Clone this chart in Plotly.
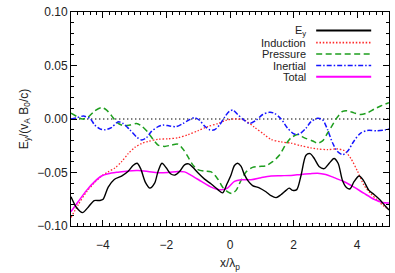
import plotly.graph_objects as go

# ---- data ----
ey_x = [-5.0, -4.82, -4.64, -4.46, -4.27, -4.09, -3.99, -3.83, -3.64, -3.41, -3.20, -3.05, -2.92, -2.81, -2.66, -2.52,
        -2.37, -2.26, -2.14, -2.00, -1.87, -1.74, -1.58, -1.43, -1.30, -1.17, -1.01, -0.80, -0.59, -0.38, -0.23, -0.10,
        0.035, 0.14, 0.24, 0.35, 0.45, 0.58, 0.71, 0.92, 1.13, 1.29, 1.45, 1.60, 1.76, 1.86, 1.97, 2.10, 2.23, 2.39,
        2.52, 2.65, 2.80, 2.96, 3.12, 3.27, 3.40, 3.54, 3.67, 3.78, 3.90, 4.06, 4.19, 4.37, 4.53, 4.72, 4.89, 5.0]
ey_y = [-0.0726, -0.083, -0.0875, -0.0824, -0.0762, -0.0762, -0.075, -0.0637, -0.0565, -0.0533, -0.0488, -0.0435,
        -0.0414, -0.0464, -0.0592, -0.0646, -0.060, -0.0488, -0.0414, -0.0458, -0.0512, -0.0524, -0.0488, -0.0429,
        -0.042, -0.0452, -0.0503, -0.0562, -0.0607, -0.066, -0.069, -0.061, -0.052, -0.0435, -0.0414, -0.0443,
        -0.0518, -0.0583, -0.0622, -0.0643, -0.068, -0.0717, -0.0735, -0.0708, -0.0667, -0.0646, -0.0667, -0.066,
        -0.0533, -0.0339, -0.0324, -0.0369, -0.0443, -0.0464, -0.0414, -0.0369, -0.0414, -0.0577, -0.0643, -0.0652,
        -0.0586, -0.0533, -0.0571, -0.0667, -0.0705, -0.0756, -0.0815, -0.085]

ind_x = [-5.0, -4.77, -4.51, -4.25, -4.04, -3.83, -3.62, -3.41, -3.20, -2.99, -2.78, -2.58, -2.26, -1.95, -1.64, -1.32,
         -1.01, -0.70, -0.38, -0.12, 0.09, 0.24, 0.45, 0.77, 1.08, 1.29, 1.60, 1.92, 2.23, 2.54, 2.75, 3.07, 3.38,
         3.59, 3.80, 4.01, 4.22, 4.42, 4.63, 4.84, 5.0]
ind_y = [-0.092, -0.080, -0.068, -0.0592, -0.0533, -0.0494, -0.0458, -0.0399, -0.0324, -0.0265, -0.0229, -0.0210,
         -0.019, -0.0185, -0.0176, -0.0146, -0.011, -0.0071, -0.0042, -0.0012, 0.0, 0.0, -0.001, -0.0077, -0.0146,
         -0.019, -0.0214, -0.0226, -0.025, -0.027, -0.028, -0.0286, -0.028, -0.0295, -0.0369, -0.0488, -0.0622,
         -0.0696, -0.0756, -0.0815, -0.0845]

pre_x = [-5.0, -4.82, -4.64, -4.46, -4.25, -4.04, -3.88, -3.73, -3.57, -3.36, -3.15, -2.94, -2.78, -2.58, -2.42, -2.26,
         -2.05, -1.85, -1.64, -1.48, -1.32, -1.17, -1.01, -0.80, -0.59, -0.38, -0.23, -0.07, 0.06, 0.19, 0.35, 0.51,
         0.71, 0.92, 1.13, 1.34, 1.55, 1.76, 1.92, 2.13, 2.34, 2.60, 2.75, 2.91, 3.07, 3.22, 3.38, 3.54, 3.69, 3.90,
         4.11, 4.32, 4.53, 4.74, 5.0]
pre_y = [0.0054, 0.0024, 0.0, 0.0018, 0.0077, 0.0107, 0.0083, 0.0033, -0.0027, -0.0062, -0.0057, -0.0042, -0.0065,
         -0.0125, -0.019, -0.0244, -0.0256, -0.0244, -0.0235, -0.028, -0.0354, -0.0429, -0.0473, -0.0488, -0.0494,
         -0.0563, -0.0637, -0.068, -0.0696, -0.0667, -0.0571, -0.0494, -0.0452, -0.0443, -0.0437, -0.0399, -0.0339,
         -0.0235, -0.0176, -0.0146, -0.0176, -0.0205, -0.0226, -0.0205, -0.0131, -0.0057, 0.0018, 0.0071, 0.0077,
         0.0057, 0.0042, 0.0057, 0.0092, 0.0122, 0.0152]

ine_x = [-5.0, -4.82, -4.61, -4.40, -4.25, -4.09, -3.93, -3.73, -3.52, -3.36, -3.15, -2.94, -2.78, -2.63, -2.47, -2.26,
         -2.11, -1.90, -1.69, -1.48, -1.27, -1.11, -0.96, -0.80, -0.64, -0.49, -0.33, -0.17, -0.02, 0.09, 0.24, 0.45,
         0.61, 0.82, 1.03, 1.24, 1.39, 1.60, 1.81, 2.02, 2.18, 2.39, 2.54, 2.75, 2.91, 3.07, 3.22, 3.38, 3.54, 3.69,
         3.90, 4.11, 4.32, 4.63, 4.89, 5.0]
ine_y = [0.0, 0.0012, 0.0027, 0.0003, -0.0057, -0.0092, -0.0101, -0.008, -0.0027, -0.0042, -0.0101, -0.0167, -0.0196,
         -0.0176, -0.0116, -0.0071, -0.0057, -0.0065, -0.0071, -0.0042, -0.0006, 0.0012, -0.0012, -0.0065, -0.0101,
         -0.0101, -0.0057, 0.0018, 0.0071, 0.0083, 0.0042, -0.0012, -0.0042, -0.0012, 0.0042, 0.0062, 0.0054, 0.0003,
         -0.0086, -0.014, -0.014, -0.0086, -0.0027, 0.0006, -0.0006, -0.0101, -0.022, -0.0304, -0.0333, -0.0304,
         -0.0205, -0.0131, -0.0107, -0.011, -0.0101, -0.0092]

tot_x = [-5.0, -4.77, -4.51, -4.25, -4.04, -3.83, -3.52, -3.20, -2.89, -2.58, -2.26, -1.95, -1.64, -1.43, -1.22, -0.90,
         -0.59, -0.38, -0.23, -0.07, 0.14, 0.35, 0.66, 0.98, 1.29, 1.60, 1.92, 2.23, 2.50, 2.75, 3.01, 3.27, 3.59,
         3.90, 4.22, 4.53, 4.79, 5.0]
tot_y = [-0.0866, -0.0771, -0.0667, -0.0583, -0.0533, -0.0512, -0.0497, -0.0485, -0.0482, -0.0491, -0.0503, -0.050,
         -0.0491, -0.0494, -0.0527, -0.0583, -0.0637, -0.0658, -0.066, -0.0643, -0.0583, -0.0568, -0.0568, -0.0548,
         -0.0533, -0.053, -0.0527, -0.0518, -0.0512, -0.0506, -0.0518, -0.0548, -0.0586, -0.0637, -0.0696, -0.075,
         -0.078, -0.0786]

zero_x = [-5, 5]
zero_y = [0, 0]

legend_names = ["E<sub>y</sub>", "Induction", "Pressure", "Inertial", "Total"]
x_ticks = [-4, -2, 0, 2, 4]
y_ticks = [-0.10, -0.05, 0.00, 0.05, 0.10]

# ---- styles ----
FONT = "Liberation Sans, Arial, sans-serif"
styles = [
    dict(color="black", width=1.4, dash="solid"),
    dict(color="#FF2A2A", width=1.3, dash="1.5px,1.8px"),
    dict(color="#1E9E1E", width=1.5, dash="6px,3.5px"),
    dict(color="#1515FF", width=1.5, dash="5px,2px,1.5px,2px"),
    dict(color="#FF00FF", width=1.5, dash="solid"),
]

fig = go.Figure()
fig.add_trace(go.Scatter(x=zero_x, y=zero_y, mode="lines",
                         line=dict(color="black", width=1.2, dash="1.4px,2.6px"), showlegend=False))
series = [(ind_x, ind_y, 1), (pre_x, pre_y, 2), (ine_x, ine_y, 3), (tot_x, tot_y, 4), (ey_x, ey_y, 0)]
for xs, ys, k in series:
    fig.add_trace(go.Scatter(x=xs, y=ys, mode="lines", line=dict(**styles[k], shape="spline", smoothing=0.8),
                             showlegend=False))

# manual legend (text right-aligned, line sample to the right)
shapes = []
annotations = []
row_y = [0.913, 0.857, 0.804, 0.750, 0.697]
for name, st, yy in zip(legend_names, styles, row_y):
    shapes.append(dict(type="line", xref="paper", yref="paper", x0=0.771, x1=0.944, y0=yy, y1=yy,
                       line=dict(color=st["color"], width=2 if st["dash"] == "solid" else 1.6, dash=st["dash"])))
    annotations.append(dict(xref="paper", yref="paper", x=0.745, y=yy, text=name, showarrow=False,
                            xanchor="right", yanchor="middle", font=dict(family=FONT, size=11, color="#222")))

axis_common = dict(showline=True, linecolor="black", linewidth=1, mirror="allticks", ticks="inside",
                   ticklen=6, tickwidth=1, tickcolor="black", showgrid=False, zeroline=False,
                   ticklabeloverflow="allow",
                   tickfont=dict(family=FONT, size=12, color="#222"))

fig.update_layout(
    width=395, height=273,
    margin=dict(l=71, r=5, t=5, b=43),
    paper_bgcolor="white", plot_bgcolor="white",
    shapes=shapes, annotations=annotations,
    xaxis=dict(range=[-5, 5], tickvals=x_ticks, ticktext=[f"{v}".replace("-", "\u2212") for v in x_ticks],
               minor=dict(dtick=0.2, ticklen=3, ticks="inside", tickcolor="black"),
               ticklabelstandoff=8,
               title=dict(text="x/λ<sub>p</sub>", font=dict(family=FONT, size=12, color="#222"), standoff=7),
               **axis_common),
    yaxis=dict(range=[-0.1, 0.1], tickvals=y_ticks,
               ticktext=[f"{v:.2f}".replace("-", "\u2212") for v in y_ticks],
               minor=dict(dtick=0.01, ticklen=3, ticks="inside", tickcolor="black"),
               title=dict(text="E<sub>y</sub>/(v<sub>A</sub> B<sub>0</sub>/c)",
                          font=dict(family=FONT, size=12, color="#222"), standoff=6),
               **axis_common),
)

fig.write_html("out.html", config={"displayModeBar": False},
               post_script="document.body.style.margin='0';document.body.style.padding='0';")
